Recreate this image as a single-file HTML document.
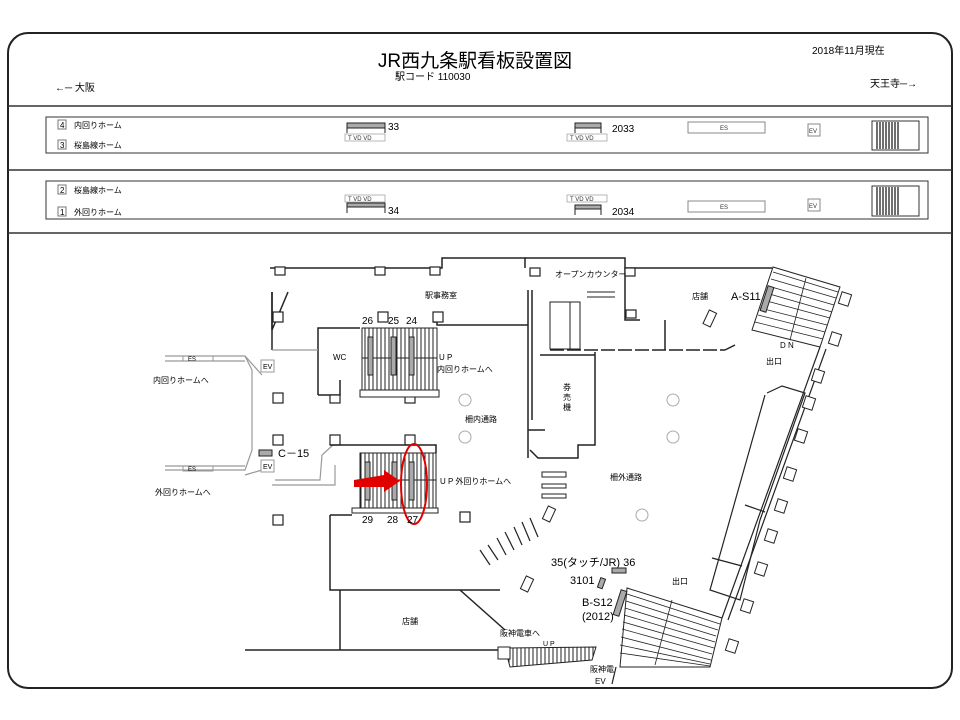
<!DOCTYPE html>
<html><head><meta charset="utf-8"><style>
html,body{margin:0;padding:0;background:#fff;}
svg{display:block;font-family:"Liberation Sans","Noto Sans CJK JP",sans-serif;}
</style></head><body>
<svg width="960" height="720" viewBox="0 0 960 720" xmlns="http://www.w3.org/2000/svg">
<defs>
<pattern id="vh" width="4" height="4" patternUnits="userSpaceOnUse"><line x1="1" y1="0" x2="1" y2="4" stroke="#222" stroke-width="1"/></pattern>
<pattern id="vh2" width="3" height="3" patternUnits="userSpaceOnUse"><line x1="1" y1="0" x2="1" y2="3" stroke="#111" stroke-width="1.2"/></pattern>
</defs>
<rect x="8" y="33" width="944" height="655" rx="20" fill="none" stroke="#222" stroke-width="2"/>
<line x1="8" y1="106" x2="952" y2="106" stroke="#333" stroke-width="1.5"/>
<line x1="8" y1="170" x2="952" y2="170" stroke="#333" stroke-width="1.5"/>
<line x1="8" y1="233" x2="952" y2="233" stroke="#333" stroke-width="1.5"/>
<text x="475" y="67" font-size="19" text-anchor="middle">JR西九条駅看板設置図</text>
<text x="395" y="80" font-size="10">駅コード 110030</text>
<text x="812" y="54" font-size="10">2018年11月現在</text>
<text x="55" y="91" font-size="10">←─ 大阪</text>
<text x="870" y="87" font-size="10">天王寺─→</text>
<rect x="46" y="117" width="882" height="36" fill="none" stroke="#333"/>
<rect x="46" y="181" width="882" height="38" fill="none" stroke="#333"/>
<g font-size="8">
<rect x="58" y="120" width="8" height="9" fill="none" stroke="#777"/><text x="60" y="128">4</text><text x="74" y="128">内回りホーム</text>
<rect x="58" y="140" width="8" height="9" fill="none" stroke="#777"/><text x="60" y="148">3</text><text x="74" y="148">桜島線ホーム</text>
<rect x="58" y="185" width="8" height="9" fill="none" stroke="#777"/><text x="60" y="193">2</text><text x="74" y="193">桜島線ホーム</text>
<rect x="58" y="207" width="8" height="9" fill="none" stroke="#777"/><text x="60" y="215">1</text><text x="74" y="215">外回りホーム</text>
</g>
<g stroke="#222" fill="#aaa">
<rect x="347" y="123" width="38" height="5"/><line x1="347" y1="123" x2="347" y2="133"/><line x1="385" y1="123" x2="385" y2="133"/>
<rect x="575" y="123" width="26" height="5"/><line x1="575" y1="123" x2="575" y2="133"/><line x1="601" y1="123" x2="601" y2="133"/>
<rect x="347" y="203" width="38" height="4"/><line x1="347" y1="203" x2="347" y2="213"/><line x1="385" y1="203" x2="385" y2="213"/>
<rect x="575" y="205" width="26" height="4"/><line x1="575" y1="205" x2="575" y2="215"/><line x1="601" y1="205" x2="601" y2="215"/>
</g>
<g font-size="6" fill="#333" stroke="#888" stroke-width=".6">
<rect x="345" y="134" width="40" height="7" fill="none"/><rect x="567" y="134" width="40" height="7" fill="none"/>
<rect x="345" y="195" width="40" height="7" fill="none"/><rect x="567" y="195" width="40" height="7" fill="none"/>
</g>
<g font-size="6" fill="#333"><text x="348" y="140">T VD VD</text><text x="570" y="140">T VD VD</text><text x="348" y="201">T VD VD</text><text x="570" y="201">T VD VD</text></g>
<g font-size="10"><text x="388" y="130">33</text><text x="612" y="132">2033</text><text x="388" y="214">34</text><text x="612" y="215">2034</text></g>
<g stroke="#888" fill="none"><rect x="688" y="122" width="77" height="11"/><rect x="688" y="201" width="77" height="11"/><rect x="808" y="124" width="12" height="12"/><rect x="808" y="199" width="12" height="12"/></g>
<g font-size="6" fill="#333"><text x="720" y="130">ES</text><text x="720" y="209">ES</text><text x="809" y="133">EV</text><text x="809" y="208">EV</text></g>
<rect x="872" y="121" width="47" height="29" fill="none" stroke="#333"/><rect x="875" y="122" width="25" height="27" fill="url(#vh2)"/>
<rect x="872" y="186" width="47" height="30" fill="none" stroke="#333"/><rect x="875" y="187" width="25" height="28" fill="url(#vh2)"/>

<g stroke="#222" fill="none" stroke-width="1.5">
<polyline points="270,268 442,268 442,258 525,258 525,268"/>
<polyline points="525,258 625,258 625,268 772,268"/>
<polyline points="272,292 272,330 288,292"/>
<line x1="272" y1="292" x2="272" y2="350"/>
<polyline points="318,395 318,328 360,328"/>
<polyline points="318,395 340,395 340,380"/>
<polyline points="433,322 437,322 437,325 528,325"/>
<line x1="528" y1="290" x2="528" y2="458"/><line x1="532" y1="290" x2="532" y2="420"/>
<polyline points="528,430 545,430"/>
<polyline points="530,450 538,458 578,458 578,445 595,445 595,352"/>
<line x1="540" y1="355" x2="595" y2="355"/>
<polyline points="625,268 625,320 640,320"/>
<line x1="550" y1="350" x2="725" y2="350" stroke-dasharray="14 3"/>
<polyline points="725,350 735,345"/>
<line x1="665" y1="320" x2="665" y2="350"/>
<polyline points="330,515 330,590 500,590"/>
<polyline points="340,590 340,650"/>
<line x1="245" y1="650" x2="500" y2="650"/>
<line x1="460" y1="590" x2="505" y2="630"/>
<line x1="330" y1="515" x2="352" y2="515"/>
</g>
<g stroke="#999" fill="none" stroke-width="1.2">
<line x1="272" y1="350" x2="318" y2="350"/>
<polyline points="165,356 245,356 262,375"/>
<polyline points="245,356 252,370 252,450 245,470 165,470"/>
<polyline points="165,361 245,361"/><polyline points="165,466 245,466"/>
<polyline points="262,470 245,475"/>
<polyline points="275,480 320,480 322,455 333,445"/>
<polyline points="272,485 335,485 335,465"/>
</g>
<g font-size="6"><rect x="183" y="356" width="30" height="5" fill="none" stroke="#999"/><text x="188" y="361">ES</text><rect x="183" y="466" width="30" height="5" fill="none" stroke="#999"/><text x="188" y="471">ES</text></g>
<g stroke="#999" fill="#fff"><rect x="261" y="360" width="13" height="12"/><rect x="261" y="460" width="13" height="12"/></g>
<g font-size="7"><text x="263" y="369">EV</text><text x="263" y="469">EV</text></g>
<g font-size="8"><text x="153" y="383">内回りホームへ</text><text x="155" y="495">外回りホームへ</text></g>
<g stroke="#222" fill="#fff" stroke-width="1.2">
<rect x="275" y="267" width="10" height="8"/><rect x="375" y="267" width="10" height="8"/><rect x="430" y="267" width="10" height="8"/>
<rect x="273" y="312" width="10" height="10"/><rect x="378" y="312" width="10" height="10"/><rect x="433" y="312" width="10" height="10"/>
<rect x="273" y="393" width="10" height="10"/><rect x="273" y="435" width="10" height="10"/><rect x="273" y="515" width="10" height="10"/>
<rect x="330" y="395" width="10" height="8"/><rect x="405" y="395" width="10" height="8"/>
<rect x="330" y="435" width="10" height="10"/><rect x="405" y="435" width="10" height="10"/>
<rect x="460" y="512" width="10" height="10"/>
<rect x="530" y="268" width="10" height="8"/><rect x="625" y="268" width="10" height="8"/><rect x="626" y="310" width="10" height="8"/>
</g>
<rect x="362" y="328" width="75" height="62" fill="url(#vh)" stroke="#222"/>
<rect x="360" y="390" width="79" height="7" fill="#fff" stroke="#222"/>
<line x1="362" y1="358" x2="437" y2="358" stroke="#222"/>
<rect x="360" y="453" width="76" height="57" fill="url(#vh)" stroke="#222"/>
<polyline points="330,445 436,445 436,453" fill="none" stroke="#222" stroke-width="1.5"/>
<line x1="360" y1="480" x2="436" y2="480" stroke="#222"/>
<rect x="352" y="508" width="86" height="5" fill="#fff" stroke="#222"/>
<g fill="#aaa" stroke="#222"><rect x="368" y="337" width="5" height="38"/><rect x="391" y="337" width="5" height="38"/><rect x="409" y="337" width="5" height="38"/>
<rect x="365" y="462" width="5" height="38"/><rect x="392" y="462" width="5" height="38"/><rect x="409" y="462" width="5" height="38"/></g>
<polygon points="354,480 384,475 384,470 400,481 384,492 384,487 354,487" fill="#e00000"/>
<ellipse cx="414" cy="484" rx="13" ry="40" fill="none" stroke="#e00000" stroke-width="2"/>
<g font-size="10"><text x="362" y="324">26</text><text x="388" y="324">25</text><text x="406" y="324">24</text>
<text x="362" y="523">29</text><text x="387" y="523">28</text><text x="407" y="523">27</text></g>
<g font-size="8"><text x="333" y="360">WC</text><text x="439" y="360">U P</text><text x="437" y="372">内回りホームへ</text>
<text x="440" y="484">U P 外回りホームへ</text><text x="425" y="298">駅事務室</text>
<text x="465" y="422">柵内通路</text><text x="610" y="480">柵外通路</text>
<text x="555" y="277">オープンカウンター</text><text x="692" y="299">店舗</text><text x="402" y="624">店舗</text>
<text x="563" y="390">券</text><text x="563" y="400">売</text><text x="563" y="410">機</text>
<text x="766" y="364">出口</text><text x="672" y="584">出口</text><text x="780" y="348">D N</text>
<text x="500" y="636">阪神電車へ</text><text x="543" y="646" font-size="7">U P</text>
<text x="590" y="672">阪神電</text><text x="595" y="684">EV</text></g>
<g font-size="11"><rect x="259" y="450" width="13" height="6" fill="#aaa" stroke="#222"/><text x="278" y="457">C－15</text>
<text x="731" y="300">A-S11</text><text x="551" y="566">35(タッチ/JR) 36</text><text x="570" y="584">3101</text>
<text x="582" y="606">B-S12</text><text x="582" y="620">(2012)</text></g>
<g fill="none" stroke="#aaa"><circle cx="465" cy="400" r="6"/><circle cx="465" cy="437" r="6"/><circle cx="673" cy="400" r="6"/><circle cx="673" cy="437" r="6"/><circle cx="642" cy="515" r="6"/></g>
<g stroke="#222" fill="none"><rect x="550" y="302" width="30" height="47"/><line x1="570" y1="302" x2="570" y2="349"/><line x1="587" y1="292" x2="615" y2="292"/><line x1="587" y1="297" x2="615" y2="297"/></g>
<polygon points="773,267 840,287 820,347 752,330" fill="#fff" stroke="#222"/>
<g stroke="#222" stroke-width="0.8">
<line x1="773" y1="272" x2="838" y2="292"/><line x1="771" y1="279" x2="836" y2="298"/><line x1="768" y1="286" x2="834" y2="305"/><line x1="766" y1="293" x2="832" y2="312"/><line x1="763" y1="300" x2="830" y2="318"/><line x1="760" y1="308" x2="827" y2="325"/><line x1="758" y1="315" x2="825" y2="332"/><line x1="755" y1="322" x2="823" y2="339"/>
<line x1="806" y1="278" x2="790" y2="340"/>
</g>
<rect x="764" y="286" width="6" height="26" fill="#aaa" stroke="#222" transform="rotate(18 767 299)"/>
<polygon points="627,588 722,618 710,667 620,667" fill="#fff" stroke="#222"/>
<g stroke="#222" stroke-width="0.8">
<line x1="627" y1="594" x2="720" y2="624"/><line x1="626" y1="601" x2="718" y2="630"/><line x1="625" y1="608" x2="716" y2="636"/><line x1="624" y1="615" x2="715" y2="642"/><line x1="623" y1="622" x2="714" y2="648"/><line x1="622" y1="629" x2="712" y2="654"/><line x1="621" y1="637" x2="711" y2="660"/><line x1="620" y1="645" x2="710" y2="664"/><line x1="620" y1="653" x2="710" y2="666"/>
<line x1="672" y1="600" x2="655" y2="665"/></g>
<rect x="617" y="590" width="6" height="26" fill="#aaa" stroke="#222" transform="rotate(18 620 603)"/>
<g fill="#aaa" stroke="#222"><rect x="612" y="568" width="14" height="5"/><rect x="599" y="578" width="5" height="10" transform="rotate(20 601 583)"/></g>
<g stroke="#222" fill="none" stroke-width="1.2">
<line x1="820" y1="347" x2="722" y2="618"/><line x1="826" y1="349" x2="728" y2="620"/>
<polyline points="767,393 782,386 805,393 760,520 740,600 710,590 765,395"/>
<line x1="745" y1="505" x2="765" y2="512"/><line x1="712" y1="558" x2="742" y2="566"/>
<line x1="612" y1="684" x2="616" y2="667"/>
</g>
<g stroke="#222" fill="#fff">
<rect x="840" y="293" width="10" height="12" transform="rotate(18 845 299)"/><rect x="830" y="333" width="10" height="12" transform="rotate(18 835 339)"/>
<rect x="813" y="370" width="10" height="12" transform="rotate(18 818 376)"/><rect x="804" y="397" width="10" height="12" transform="rotate(18 809 403)"/>
<rect x="796" y="430" width="10" height="12" transform="rotate(18 801 436)"/><rect x="785" y="468" width="10" height="12" transform="rotate(18 790 474)"/>
<rect x="776" y="500" width="10" height="12" transform="rotate(18 781 506)"/><rect x="766" y="530" width="10" height="12" transform="rotate(18 771 536)"/>
<rect x="756" y="563" width="10" height="12" transform="rotate(18 761 569)"/><rect x="742" y="600" width="10" height="12" transform="rotate(18 747 606)"/>
<rect x="727" y="640" width="10" height="12" transform="rotate(18 732 646)"/>
<rect x="706" y="311" width="8" height="15" transform="rotate(25 710 318)"/><rect x="523" y="577" width="8" height="14" transform="rotate(25 527 584)"/>
<rect x="545" y="507" width="8" height="14" transform="rotate(25 549 514)"/>
</g>
<g stroke="#222" fill="#fff"><rect x="542" y="472" width="24" height="5"/><rect x="542" y="484" width="24" height="4"/><rect x="542" y="494" width="24" height="4"/></g>
<g stroke="#222" fill="none" stroke-width="1.2">
<line x1="480" y1="550" x2="490" y2="565"/><line x1="488" y1="545" x2="498" y2="560"/><line x1="497" y1="538" x2="506" y2="555"/><line x1="505" y1="532" x2="514" y2="550"/><line x1="514" y1="527" x2="522" y2="545"/><line x1="522" y1="522" x2="530" y2="541"/><line x1="530" y1="518" x2="538" y2="537"/>
</g>
<polygon points="505,648 596,647 592,660 510,667" fill="url(#vh)" stroke="#222"/>
<rect x="498" y="647" width="12" height="12" fill="#fff" stroke="#222"/>
</svg>
</body></html>
